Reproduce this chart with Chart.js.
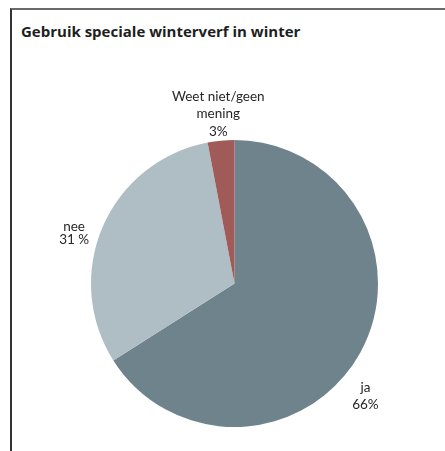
<!DOCTYPE html>
<html>
<head>
<meta charset="utf-8">
<script src="https://cdn.jsdelivr.net/npm/chart.js@4/dist/chart.umd.min.js"></script>
<style>
  html, body { margin: 0; padding: 0; background: #fff; }
  #wrap { position: relative; width: 445px; height: 451px; overflow: hidden; }
  #frame {
    position: absolute; left: 10px; top: 8px; right: -5px; bottom: -5px;
    border-top: 2px solid #6a6a6a; border-left: 2px solid #333;
  }
  #title {
    position: absolute; left: 21px; top: 21px; line-height: 20px;
    font: bold 15px "Open Sans", Lato, sans-serif; color: #1e1e1e;
  }
  #pie { position: absolute; left: 0; top: 0; }
</style>
</head>
<body>
<div id="wrap">
  <div id="frame"></div>
  <div id="title">Gebruik speciale winterverf in winter</div>
  <canvas id="pie" width="445" height="451"></canvas>
</div>
<script>
// data
const labels = ["ja", "nee", "Weet niet/geen mening"]
const values = [66, 31, 3]
const valueLabels = [["ja", "66%"], ["nee", "31 %"], ["Weet niet/geen", "mening", "3%"]]
const colors = ["#6f838d", "#afbdc4", "#a05a58"]

// label placement: distance from centre (times radius), a small nudge, line height
const labelDist = [1.2, 1.18, 1.2]
const labelNudge = [[-20, 30], [-5, 17], [0, 2]]
const labelLineHeight = [17.3, 13.5, 17.3]

// draws the slice labels outside the pie
const outsideLabels = {
  id: "outsideLabels",
  afterDatasetsDraw(chart) {
    const ctx = chart.ctx
    const arcs = chart.getDatasetMeta(0).data
    ctx.save()
    ctx.font = "13.5px Lato, 'Open Sans', sans-serif"
    ctx.fillStyle = "#262626"
    ctx.textAlign = "center"
    ctx.textBaseline = "middle"
    arcs.forEach((arc, i) => {
      const mid = (arc.startAngle + arc.endAngle) / 2
      const r = arc.outerRadius * labelDist[i]
      const x = arc.x + Math.cos(mid) * r + labelNudge[i][0]
      const y = arc.y + Math.sin(mid) * r + labelNudge[i][1]
      const lines = valueLabels[i]
      const lh = labelLineHeight[i]
      lines.forEach((line, j) => {
        ctx.fillText(line, x, y + (j - (lines.length - 1) / 2) * lh)
      })
    })
    ctx.restore()
  }
}

new Chart(document.querySelector("#pie"), {
  type: "pie",
  data: {
    labels: labels,
    datasets: [{
      data: values,
      backgroundColor: colors,
      borderWidth: 0
    }]
  },
  options: {
    responsive: false,
    animation: false,
    layout: { padding: { left: 91, right: 67, top: 140, bottom: 24 } },
    plugins: {
      legend: { display: false },
      tooltip: { enabled: false }
    }
  },
  plugins: [outsideLabels]
})
</script>
</body>
</html>
